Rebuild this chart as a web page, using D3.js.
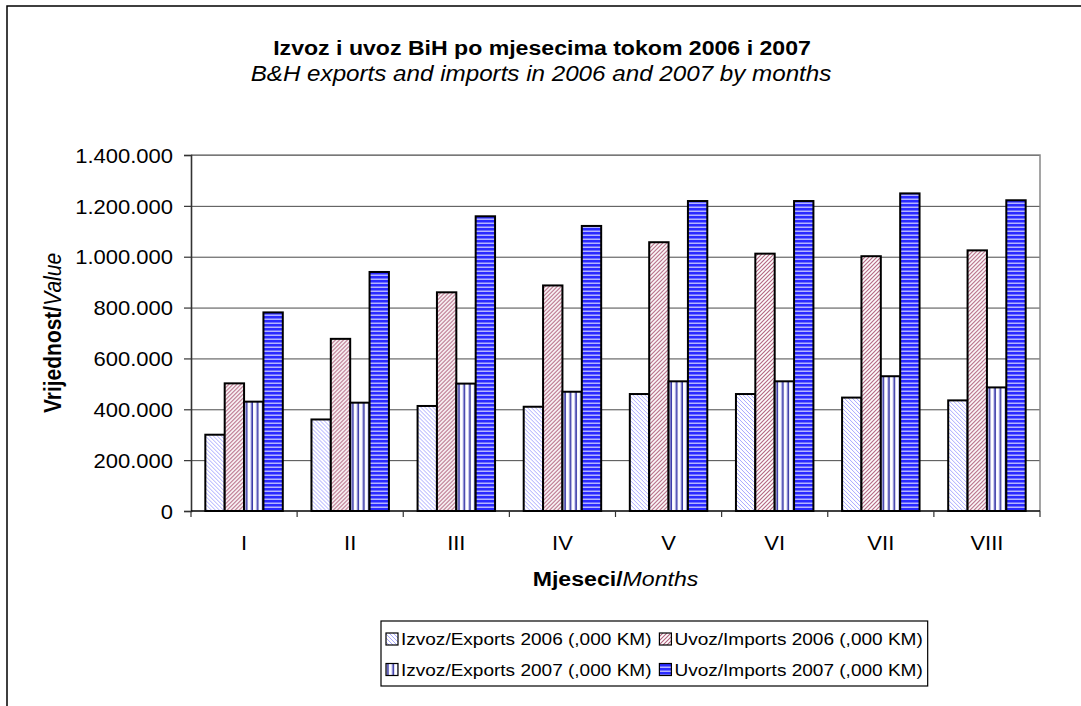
<!DOCTYPE html>
<html lang="bs">
  <head>
    <meta charset="utf-8">
    <title>Izvoz i uvoz BiH</title>
    <script src="https://d3js.org/d3.v7.min.js"></script>
    <style>
      body { margin: 0; background: #fff; }
      text { font-family: "Liberation Sans", Arial, sans-serif; fill: #000; }
    </style>
  </head>
  <body>
    <div id="chart"></div>
    <script>
      "use strict"
      // podaci (,000 KM)
      var mjeseci = ["I", "II", "III", "IV", "V", "VI", "VII", "VIII"];
      var izvoz2006 = [300000, 360000, 413000, 410000, 460000, 460000, 446000, 435000];
      var uvoz2006 = [502000, 677000, 860000, 887000, 1057000, 1012000, 1002000, 1025000];
      var izvoz2007 = [430000, 426000, 501000, 469000, 510000, 510000, 530000, 486000];
      var uvoz2007 = [781000, 940000, 1159000, 1121000, 1219000, 1219000, 1249000, 1222000];
      var serije = ["Izvoz/Exports 2006 (,000 KM)", "Uvoz/Imports 2006 (,000 KM)",
                    "Izvoz/Exports 2007 (,000 KM)", "Uvoz/Imports 2007 (,000 KM)"];
      var yTicks = [0, 200000, 400000, 600000, 800000, 1000000, 1200000, 1400000];

      var sviPodaci = [izvoz2006, uvoz2006, izvoz2007, uvoz2007];
      var SX = 1.1; // tekst je u originalu malo razvucen po sirini

      var larguraSVG = 1081, alturaSVG = 706;
      var plot = {left: 191, right: 1040, top: 155, bottom: 511};

      var svg = d3.select('#chart').append('svg')
          .attr('width', larguraSVG)
          .attr('height', alturaSVG);

      // uzorci (patterns) za stupce
      var defs = svg.append('defs');
      function uzorak(id, w, h, bg, draw) {
        var p = defs.append('pattern').attr('id', id)
          .attr('patternUnits', 'userSpaceOnUse')
          .attr('width', w).attr('height', h);
        p.append('rect').attr('width', w).attr('height', h).attr('fill', bg);
        draw(p);
      }
      uzorak('p0', 4, 4, '#fff', function(p) {
        p.append('path').attr('d', 'M-1,-1 L5,5 M3,-1 L5,1 M-1,3 L1,5')
          .attr('stroke', '#a9a9ff').attr('stroke-width', 1);
      });
      uzorak('p1', 4, 4, '#fff', function(p) {
        p.append('path').attr('d', 'M-1,5 L5,-1 M-1,1 L1,-1 M3,5 L5,3')
          .attr('stroke', '#b0607c').attr('stroke-width', 1.1);
      });
      uzorak('p2', 5.5, 4, '#fff', function(p) {
        p.append('rect').attr('x', 2).attr('width', 1.7).attr('height', 4).attr('fill', '#3a3aa8');
        p.append('rect').attr('x', 1.2).attr('width', 0.8).attr('height', 4).attr('fill', '#b8b8ee');
      });
      uzorak('p3', 4, 4, '#2a2aff', function(p) {
        p.append('rect').attr('y', 2.6).attr('width', 4).attr('height', 1.2).attr('fill', '#d6d6ff');
      });
      var boje = ['url(#p0)', 'url(#p1)', 'url(#p2)', 'url(#p3)'];

      // okvir grafikona
      svg.append('path')
        .attr('d', 'M7,' + alturaSVG + ' V6 H' + larguraSVG)
        .attr('fill', 'none').attr('stroke', '#000').attr('stroke-width', 1.5);

      // skale
      var x = d3.scaleBand().domain(mjeseci)
        .range([plot.left, plot.right])
        .paddingInner(0.27).paddingOuter(0.135);
      var xs = d3.scaleBand().domain(d3.range(serije.length)).range([0, x.bandwidth()]);
      var y = d3.scaleLinear().domain([0, 1400000]).range([plot.bottom, plot.top]);

      var loc = d3.formatLocale({decimal: ",", thousands: ".", grouping: [3], currency: ["", ""]});
      var fmt = loc.format(",d");

      // mreza
      svg.append('g')
        .attr('transform', 'translate(' + plot.left + ',0)')
        .call(d3.axisLeft(y).tickValues(yTicks.slice(1)).tickSize(-(plot.right - plot.left)).tickFormat(''))
        .call(g => g.select('.domain').remove())
        .selectAll('line').attr('stroke', '#4a4a4a');

      // rub podrucja crtanja
      svg.append('path')
        .attr('d', 'M' + plot.left + ',' + plot.top + ' H' + plot.right + ' V' + plot.bottom)
        .attr('fill', 'none').attr('stroke', '#888').attr('stroke-width', 1.5);

      // stupci
      var grupe = svg.selectAll('.mjesec')
        .data(mjeseci)
        .enter().append('g')
          .attr('class', 'mjesec')
          .attr('transform', d => 'translate(' + x(d) + ',0)');
      grupe.selectAll('rect')
        .data((d, i) => sviPodaci.map((s, k) => ({k: k, v: s[i]})))
        .enter().append('rect')
          .attr('x', d => xs(d.k))
          .attr('y', d => y(d.v))
          .attr('width', xs.bandwidth())
          .attr('height', d => y(0) - y(d.v))
          .attr('fill', d => boje[d.k])
          .attr('stroke', '#000')
          .attr('stroke-width', 2);

      // y os
      var yAxis = svg.append('g')
        .attr('transform', 'translate(' + plot.left + ',0)')
        .call(d3.axisLeft(y).tickValues(yTicks).tickSize(7).tickFormat(fmt));
      yAxis.select('.domain').attr('stroke', '#333').attr('stroke-width', 1.6);
      yAxis.selectAll('line').attr('stroke', '#333').attr('stroke-width', 1.2);
      yAxis.selectAll('text')
        .attr('x', -18 / SX).attr('dy', '0.36em')
        .attr('transform', 'scale(' + SX + ',1)')
        .style('font-size', '20px');

      // x os: crtice na granicama kategorija
      var granice = mjeseci.map(m => x(m) - (x.step() - x.bandwidth()) / 2).concat([plot.right]);
      var xAxis = svg.append('g');
      xAxis.append('line')
        .attr('x1', plot.left).attr('x2', plot.right)
        .attr('y1', plot.bottom).attr('y2', plot.bottom)
        .attr('stroke', '#000').attr('stroke-width', 1.6);
      xAxis.selectAll('.tick')
        .data(granice)
        .enter().append('line')
          .attr('x1', d => d).attr('x2', d => d)
          .attr('y1', plot.bottom).attr('y2', plot.bottom + 6)
          .attr('stroke', '#333').attr('stroke-width', 1.2);
      xAxis.selectAll('.lbl')
        .data(mjeseci)
        .enter().append('text')
          .attr('transform', d => 'translate(' + (x(d) + x.bandwidth() / 2) + ',550) scale(' + SX + ',1)')
          .attr('text-anchor', 'middle')
          .style('font-size', '20px')
          .text(d => d);

      // naslovi
      function naslov(tx, ty, size, dijelovi, rot) {
        var t = svg.append('text')
          .attr('transform', 'translate(' + tx + ',' + ty + ') scale(' + SX + ',1)' + (rot ? ' rotate(-90)' : ''))
          .attr('text-anchor', 'middle')
          .style('font-size', size + 'px');
        dijelovi.forEach(function(d) {
          t.append('tspan')
            .style('font-weight', d.b ? 'bold' : 'normal')
            .style('font-style', d.i ? 'italic' : 'normal')
            .text(d.t);
        });
      }
      naslov(542, 55, 21, [{t: 'Izvoz i uvoz BiH po mjesecima tokom 2006 i 2007', b: true}]);
      naslov(541, 81, 22, [{t: 'B&H exports and imports in 2006 and 2007 by months', i: true}]);
      naslov(61, 333, 21, [{t: 'Vrijednost/', b: true}, {t: 'Value', i: true}], true);
      naslov((plot.left + plot.right) / 2, 586, 21, [{t: 'Mjeseci/', b: true}, {t: 'Months', i: true}]);

      // legenda
      var leg = svg.append('g');
      var legBox = leg.append('rect')
        .attr('fill', '#fff').attr('stroke', '#000').attr('stroke-width', 1.2);
      var legX = 381, legTop = 621, redovi = [645, 675.5];
      var stavke = leg.selectAll('.stavka')
        .data(serije)
        .enter().append('g').attr('class', 'stavka');
      stavke.append('text')
        .style('font-size', '17.3px')
        .text(d => d);
      // sirina stupaca legende
      var sirine = [];
      stavke.selectAll('text').each(function() { sirine.push(this.getComputedTextLength() * SX); });
      var kol1 = Math.max(sirine[0], sirine[2]), kol2 = Math.max(sirine[1], sirine[3]);
      var kolX = [legX + 5, legX + 5 + 12 + 4 + kol1 + 7];
      stavke.each(function(d, i) {
        var g = d3.select(this), cx = kolX[i % 2], by = redovi[Math.floor(i / 2)];
        g.append('rect')
          .attr('x', cx).attr('y', by - 12)
          .attr('width', 12).attr('height', 12)
          .attr('fill', boje[i]).attr('stroke', '#000').attr('stroke-width', 1.2);
        g.select('text')
          .attr('transform', 'translate(' + (cx + 15) + ',' + by + ') scale(' + SX + ',1)');
      });
      legBox.attr('x', legX).attr('y', legTop)
        .attr('width', kolX[1] + 15 + kol2 + 5 - legX)
        .attr('height', 686 - legTop);
    </script>
  </body>
</html>
